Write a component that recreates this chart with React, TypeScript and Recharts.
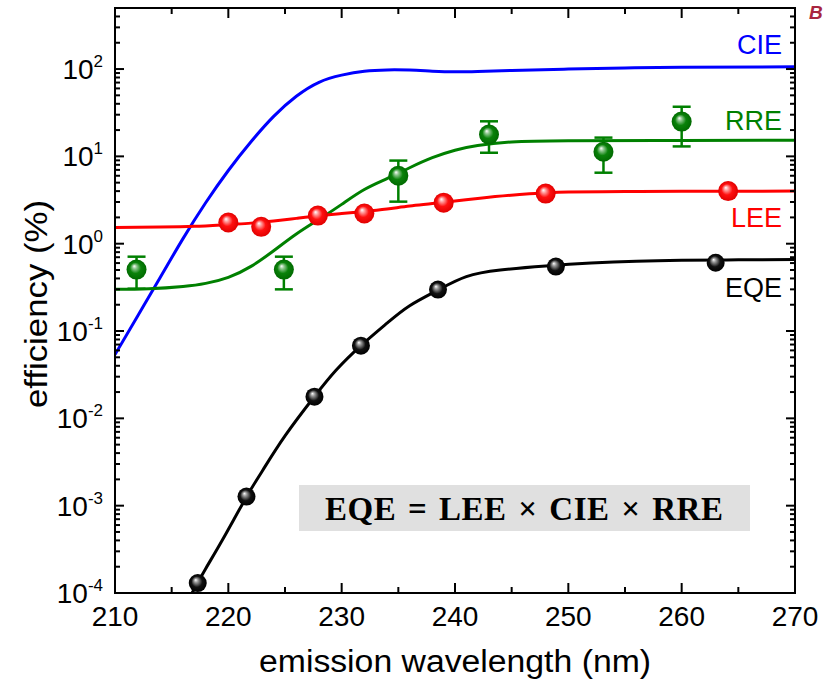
import React from 'react';
import { ComposedChart, Line, Scatter, XAxis, YAxis, ErrorBar } from 'recharts';

// ---------- data ----------
// EQE measured points
const eqeWl = [217.3, 221.6, 227.6, 231.7, 238.5, 248.9, 263.0];
const eqeVal = [1.3e-4, 1.27e-3, 0.0177, 0.068, 0.298, 0.547, 0.605];
// EQE fitted curve
const eqeFitWl = [216.8, 218, 219.5, 221.6, 223, 225, 227.6, 229.5, 231.7, 234, 236, 238.5, 241, 244, 248, 252, 256, 260, 265, 270];
const eqeFitVal = [1.0e-4, 1.9e-4, 4.1e-4, 1.26e-3, 2.5e-3, 6.3e-3, 0.0178, 0.0355, 0.068, 0.123, 0.195, 0.295, 0.42, 0.5, 0.556, 0.6, 0.63, 0.645, 0.653, 0.658];

// LEE measured points
const leeWl = [220.0, 222.9, 227.9, 232.0, 239.0, 248.0, 264.1];
const leeVal = [1.75, 1.56, 2.10, 2.22, 2.95, 3.75, 4.0];
// LEE fitted curve
const leeFitWl = [210, 214, 217, 220, 222, 224, 226, 228, 230, 232, 234, 236, 238, 240, 242, 245.7, 248, 250, 255, 260, 270];
const leeFitVal = [1.53, 1.55, 1.58, 1.66, 1.72, 1.82, 1.95, 2.09, 2.21, 2.34, 2.5, 2.7, 2.88, 3.09, 3.3, 3.65, 3.8, 3.9, 3.95, 3.98, 4.0];

// RRE measured points with error bounds
const rreWl = [211.9, 224.9, 235.0, 243.0, 253.1, 260.0];
const rreVal = [0.505, 0.505, 6.0, 17.8, 11.3, 25];
const rreLow = [0.305, 0.30, 3.03, 11.0, 6.5, 13];
const rreHigh = [0.71, 0.71, 8.95, 25.2, 16.4, 37];
// RRE fitted curve
const rreFitWl = [210, 213, 216, 218, 220, 222, 224, 226, 228, 230, 232, 234, 236, 238, 240, 242, 245, 250, 260, 270];
const rreFitVal = [0.300, 0.305, 0.324, 0.351, 0.412, 0.55, 0.83, 1.29, 1.9, 2.82, 4.17, 5.56, 7.41, 9.66, 11.75, 13.3, 14.6, 15.1, 15.2, 15.3];

// CIE curve
const cieWl = [210, 212, 214, 216, 218, 220, 222, 224, 226, 228, 230, 232, 234, 236, 238, 240, 242, 245, 250, 255, 260, 270];
const cieVal = [0.0537, 0.149, 0.413, 1.143, 2.94, 6.89, 14.7, 28.7, 48.8, 70.5, 85.1, 94.4, 97.7, 97.2, 94.6, 92.9, 93.8, 96.4, 100, 102.8, 104.7, 106];

// axis ticks
const xTicks = [210, 215, 220, 225, 230, 235, 240, 245, 250, 255, 260, 265, 270];
const xMajor = [210, 220, 230, 240, 250, 260, 270];
const yExponents = [-4, -3, -2, -1, 0, 1, 2];
const yMultipliers = [1, 2, 3, 4, 5, 6, 7, 8, 9];
const yTopExtra = [200, 300, 400];

// ---------- build tables ----------
const pts = (xs: number[], ys: number[]) => xs.map((x, i) => ({ x, y: ys[i] }));
const eqePts = pts(eqeWl, eqeVal);
const eqeFit = pts(eqeFitWl, eqeFitVal);
const leePts = pts(leeWl, leeVal);
const leeFit = pts(leeFitWl, leeFitVal);
const rrePts = rreWl.map((x, i) => ({ x, y: rreVal[i], err: [rreVal[i] - rreLow[i], rreHigh[i] - rreVal[i]] }));
const rreFit = pts(rreFitWl, rreFitVal);
const cieFit = pts(cieWl, cieVal);

const yTicks: number[] = [];
yExponents.forEach((e) => {
  yMultipliers.forEach((m) => {
    if (e === 2 && m > 1) return;
    yTicks.push(m * Math.pow(10, e));
  });
});
yTopExtra.forEach((v) => yTicks.push(v));

// ---------- layout ----------
const W = 823;
const H = 684;
const PL = 115;
const PR = 795;
const PT = 8;
const PB = 593;
const SANS = '"Liberation Sans", Arial, Helvetica, sans-serif';

const XTick = (props: any) => {
  const { x, payload } = props;
  const v = payload.value;
  const major = xMajor.includes(v);
  const len = major ? 10 : 6;
  return (
    <g>
      <line x1={x} x2={x} y1={PB} y2={PB - len} stroke="#000" strokeWidth={2} />
      <line x1={x} x2={x} y1={PT} y2={PT + len} stroke="#000" strokeWidth={2} />
      {major && (
        <text x={x} y={626} textAnchor="middle" fontSize={28} fill="#000" fontFamily={SANS}>
          {v}
        </text>
      )}
    </g>
  );
};

const YTick = (props: any) => {
  const { y, payload } = props;
  const v = payload.value;
  const e = Math.round(Math.log10(v));
  const major = Math.abs(v - Math.pow(10, e)) < 1e-6 * Math.pow(10, e);
  const len = major ? 9 : 5;
  return (
    <g>
      <line x1={PL} x2={PL + len} y1={y} y2={y} stroke="#000" strokeWidth={2} />
      <line x1={PR} x2={PR - len} y1={y} y2={y} stroke="#000" strokeWidth={2} />
      {major && (
        <text x={103} y={y + 10} textAnchor="end" fontSize={28} fill="#000" fontFamily={SANS}>
          <tspan>10</tspan>
          <tspan dy={-12} fontSize={17}>{String(e)}</tspan>
        </text>
      )}
    </g>
  );
};

const ball = (grad: string, r: number) => (props: any) => {
  const { cx, cy } = props;
  if (cx == null || cy == null) return <g />;
  return <circle cx={cx} cy={cy} r={r} fill={`url(#${grad})`} />;
};

export default function App() {
  return (
    <div style={{ position: 'absolute', left: 0, top: 0, width: W, height: H, background: '#fff' }}>
      <svg width={0} height={0} style={{ position: 'absolute' }}>
        <defs>
          <radialGradient id="gRed" cx="0.5" cy="0.5" r="0.5" fx="0.38" fy="0.32">
            <stop offset="0%" stopColor="#ffffff" />
            <stop offset="22%" stopColor="#ff9a9a" />
            <stop offset="55%" stopColor="#ff1010" />
            <stop offset="100%" stopColor="#e00000" />
          </radialGradient>
          <radialGradient id="gGreen" cx="0.5" cy="0.5" r="0.5" fx="0.38" fy="0.32">
            <stop offset="0%" stopColor="#ffffff" />
            <stop offset="22%" stopColor="#8cc68c" />
            <stop offset="55%" stopColor="#0a820a" />
            <stop offset="100%" stopColor="#006a00" />
          </radialGradient>
          <radialGradient id="gBlack" cx="0.5" cy="0.5" r="0.5" fx="0.38" fy="0.32">
            <stop offset="0%" stopColor="#ffffff" />
            <stop offset="22%" stopColor="#9a9a9a" />
            <stop offset="60%" stopColor="#111111" />
            <stop offset="100%" stopColor="#000000" />
          </radialGradient>
        </defs>
      </svg>
      <ComposedChart width={W} height={H} margin={{ top: PT, right: W - PR, bottom: 0, left: 0 }}>
        <XAxis
          dataKey="x"
          type="number"
          domain={[210, 270]}
          ticks={xTicks}
          interval={0}
          height={H - PB}
          axisLine={false}
          tickLine={false}
          tick={<XTick />}
          allowDataOverflow
        />
        <YAxis
          type="number"
          scale="log"
          domain={[1e-4, 500]}
          ticks={yTicks}
          interval={0}
          width={PL}
          axisLine={false}
          tickLine={false}
          tick={<YTick />}
          allowDataOverflow
        />
        <Line data={cieFit} dataKey="y" type="natural" stroke="#0000ff" strokeWidth={3} dot={false} isAnimationActive={false} />
        <Line data={rreFit} dataKey="y" type="natural" stroke="#008000" strokeWidth={3} dot={false} isAnimationActive={false} />
        <Line data={leeFit} dataKey="y" type="natural" stroke="#ff0000" strokeWidth={3} dot={false} isAnimationActive={false} />
        <Line data={eqeFit} dataKey="y" type="natural" stroke="#000000" strokeWidth={3} dot={false} isAnimationActive={false} />
        <Scatter data={rrePts} dataKey="y" shape={ball('gGreen', 10)} isAnimationActive={false}>
          <ErrorBar dataKey="err" direction="y" width={9} stroke="#008000" strokeWidth={2.5} />
        </Scatter>
        <Scatter data={leePts} dataKey="y" shape={ball('gRed', 10)} isAnimationActive={false} />
        <Scatter data={eqePts} dataKey="y" shape={ball('gBlack', 9)} isAnimationActive={false} />
      </ComposedChart>
      <svg
        width={W}
        height={H}
        style={{ position: 'absolute', left: 0, top: 0, pointerEvents: 'none' }}
      >
        <rect x={PL} y={PT} width={PR - PL} height={PB - PT} fill="none" stroke="#000" strokeWidth={2} />
        <text x={782} y={54} textAnchor="end" fontSize={27} fill="#0000ff" fontFamily={SANS}>CIE</text>
        <text x={782} y={130} textAnchor="end" fontSize={27} fill="#008000" fontFamily={SANS}>RRE</text>
        <text x={782} y={227} textAnchor="end" fontSize={27} fill="#ff0000" fontFamily={SANS}>LEE</text>
        <text x={782} y={297} textAnchor="end" fontSize={27} fill="#000" fontFamily={SANS}>EQE</text>
        <rect x={299} y={485} width={451} height={46} fill="#e0e0e0" />
        <text
          x={524}
          y={520}
          textAnchor="middle"
          fontSize={33}
          fontWeight="bold"
          fill="#000"
          fontFamily='"Liberation Serif", "DejaVu Serif", serif'
          textLength={398}
          lengthAdjust="spacing"
        >
          {'EQE\u2004=\u2004LEE\u2004×\u2004CIE\u2004×\u2004RRE'}
        </text>
        <text x={455} y={672} textAnchor="middle" fontSize={31} fill="#000" fontFamily={SANS} textLength={392} lengthAdjust="spacingAndGlyphs">
          emission wavelength (nm)
        </text>
        <text transform="translate(47,304) rotate(-90)" textAnchor="middle" fontSize={31} fill="#000" fontFamily={SANS} textLength={208} lengthAdjust="spacingAndGlyphs">
          efficiency (%)
        </text>
        <text x={809} y={19} fontSize={19} fontWeight="bold" fontStyle="italic" fill="#a8253f" fontFamily={SANS}>B</text>
      </svg>
    </div>
  );
}
